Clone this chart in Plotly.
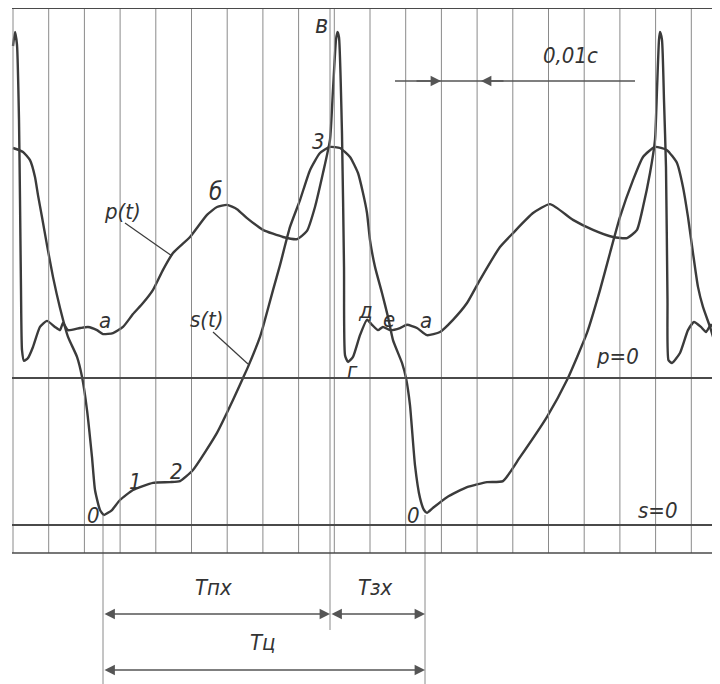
import plotly.graph_objects as go

# ---------------- data ----------------
# time axis in ms (one vertical grid division = 0,01 s scale mark ~ 10 ms)
p_t = [0.0, 0.56, 1.12, 1.68, 1.96, 2.24, 2.52, 3.08, 4.20, 5.60, 7.56, 9.52, 11.76, 13.17, 14.01,
       15.41, 18.77, 21.01, 23.53, 25.21, 28.01, 30.81, 33.61, 36.41, 39.22, 42.02, 44.82, 49.58,
       54.34, 57.14, 59.94, 62.74, 65.55, 70.03, 75.63, 79.55, 82.35, 84.59, 86.83, 88.79, 89.63,
       90.47, 90.89, 91.31, 92.15, 92.72, 93.00, 93.84, 95.24, 97.20, 99.16, 100.56, 102.24,
       103.64, 105.60, 108.40, 110.36, 113.16, 115.97, 119.61, 123.25, 127.17, 130.81, 136.41,
       140.06, 145.66, 150.42, 156.86, 162.46, 168.07, 171.99, 174.79, 176.47, 178.43, 179.83,
       180.39, 180.95, 181.23, 181.79, 182.35, 182.91, 183.33, 183.61, 184.59, 186.83, 189.07,
       190.75, 192.71, 194.12, 195.52, 196.92, 198.04]
p_val = [93.0, 96.9, 93.3, 72.3, 49.9, 24.7, 7.8, 4.8, 5.6, 8.7, 14.3, 16.0, 14.3, 13.4, 15.4,
         13.4, 14.0, 14.3, 13.4, 12.3, 12.6, 14.3, 17.9, 21.0, 24.7, 30.3, 35.0, 39.5,
         45.7, 47.9, 48.5, 47.3, 44.8, 41.5, 39.5, 38.9, 41.2, 47.9, 57.4, 66.7, 80.7,
         94.7, 96.9, 95.5, 68.6, 31.1, 6.4, 4.5, 5.9, 12.0, 16.3, 14.9, 13.4,
         14.3, 13.4, 14.0, 14.9, 14.0, 12.0, 12.9, 16.3, 21.0, 27.5, 36.7,
         40.6, 46.2, 48.7, 44.3, 41.5, 39.5, 39.2, 41.5, 47.9, 57.4, 66.7,
         80.7, 94.7, 96.9, 94.7, 77.9, 59.1, 21.9, 5.0, 4.2, 7.0, 13.4,
         15.7, 14.3, 12.9, 14.9, 12.9, 12.6]

s_t = [0.0, 2.80, 4.76, 6.16, 7.00, 8.12, 9.52, 11.20, 13.17, 15.41, 17.93, 19.33, 20.73, 22.13,
       22.97, 24.37, 25.49, 26.61, 27.73, 29.97, 33.61, 39.22, 43.98, 46.78, 50.42, 57.14, 61.62,
       64.43, 65.83, 69.19, 70.03, 72.83, 74.79, 77.59, 80.39, 83.19, 85.99, 88.79, 91.59, 94.40,
       96.64, 98.04, 99.16, 100.00, 101.40, 103.36, 105.04, 106.44, 108.96, 110.08, 111.20,
       112.60, 114.00, 115.13, 115.97, 117.65, 121.57, 127.17, 132.77, 137.25, 142.02, 149.58,
       155.18, 160.78, 164.42, 167.23, 170.03, 173.67, 176.47, 179.83, 183.19, 185.99, 187.67,
       189.07, 190.47, 191.87, 193.27, 195.24, 196.64, 198.04]
s_val = [10.56, 10.45, 10.22, 9.75, 9.24, 8.63, 7.84, 6.95, 6.08, 5.27, 4.71, 4.15, 3.22, 1.90,
         0.98, 0.42, 0.28, 0.34, 0.42, 0.70, 0.98, 1.18, 1.20, 1.23, 1.54, 2.58, 3.50,
         4.12, 4.43, 5.27, 5.55, 6.58, 7.28, 8.35, 9.10, 9.94, 10.42, 10.59, 10.56, 10.31,
         9.86, 9.30, 8.74, 7.98, 7.23, 6.50, 5.83, 5.18, 4.54, 4.12, 3.36,
         1.68, 0.76, 0.42, 0.34, 0.48, 0.78, 1.06, 1.20, 1.23, 1.90, 3.03,
         4.06, 5.38, 6.58, 7.62, 8.63, 9.66, 10.31, 10.59, 10.50, 10.14, 9.47,
         8.63, 7.62, 6.67, 6.11, 5.55, 5.10, 4.82]

grid_t = [0, 10, 20, 30, 40, 50, 60, 70, 80, 90, 100, 110, 120, 130, 140, 150, 160, 170, 180, 190]

# ---------------- helpers (page position -> axis units, for drawing furniture) ----------------
K = 10 / 35.7
OFF = 8  # default body margin of the html page
def X(px):
    return (px - 13) * K
def P(py):
    return (378 - py) * K
def S(py):
    return (525 - py) * K / 10

INK = "#3b3b3b"
GRID = "#8a8a8a"
FONT = "DejaVu Sans Condensed, DejaVu Sans, sans-serif"

fig = go.Figure()
fig.add_trace(go.Scatter(x=p_t, y=p_val, mode="lines", yaxis="y",
                         line=dict(color=INK, width=2.4, shape="spline", smoothing=0.5),
                         hoverinfo="skip"))
fig.add_trace(go.Scatter(x=s_t, y=s_val, mode="lines", yaxis="y2",
                         line=dict(color=INK, width=2.4, shape="spline", smoothing=0.5),
                         hoverinfo="skip"))

shapes = []
y_top, y_bot = P(8), P(553)
for g in grid_t:
    shapes.append(dict(type="line", xref="x", yref="y", x0=g, x1=g, y0=y_top, y1=y_bot,
                       line=dict(color=GRID, width=1)))
# extra line at the Тпх / Тзх boundary
shapes.append(dict(type="line", xref="x", yref="y", x0=X(330), x1=X(330), y0=y_top, y1=P(630),
                   line=dict(color=GRID, width=1)))
# extension lines from the s minima
for px in (103, 425):
    shapes.append(dict(type="line", xref="x", yref="y", x0=X(px), x1=X(px), y0=P(515), y1=P(690),
                       line=dict(color=GRID, width=1)))
# horizontal frame lines: top, p=0, s=0, bottom
for py, w in ((8, 1.8), (378, 2.2), (525, 2.2), (553, 1.6)):
    shapes.append(dict(type="line", xref="x", yref="y", x0=X(12), x1=X(722), y0=P(py), y1=P(py),
                       line=dict(color="#4a4a4a", width=w)))
# leader lines
shapes.append(dict(type="line", xref="x", yref="y", x0=X(125), y0=P(223), x1=X(172), y1=P(256),
                   line=dict(color=INK, width=1.2)))
shapes.append(dict(type="line", xref="x", yref="y", x0=X(213), y0=P(332), x1=X(248), y1=P(364),
                   line=dict(color=INK, width=1.2)))
# 0,01 c scale line
shapes.append(dict(type="line", xref="x", yref="y", x0=X(395), x1=X(635), y0=P(81), y1=P(81),
                   line=dict(color="#555555", width=1.3)))

ann = []
def label(txt, px, py, size=22):
    ann.append(dict(x=X(px), y=P(py), xref="x", yref="y", text="<i>" + txt + "</i>",
                    showarrow=False, font=dict(family=FONT, size=size, color="#333333")))

label("в", 321, 24, 25)
label("3", 318, 141)
label("б", 215, 192, 24)
label("p(t)", 122, 211)
label("s(t)", 207, 319)
label("а", 105, 320)
label("а", 426, 320)
label("д", 365, 310)
label("е", 389, 319)
label("г", 352, 370)
label("0", 93, 515)
label("0", 413, 515)
label("1", 135, 481)
label("2", 176, 471)
label("p=0", 617, 356)
label("s=0", 658, 510)
label("0,01с", 570, 55)
label("Тпх", 213, 587)
label("Тзх", 375, 587)
label("Тц", 263, 642)

def arrow(x_head, x_tail, py, both=False):
    ann.append(dict(x=X(x_head), y=P(py), ax=X(x_tail), ay=P(py), xref="x", yref="y",
                    axref="x", ayref="y", text="", showarrow=True,
                    arrowhead=2, arrowsize=1.6, arrowwidth=1.3, arrowcolor="#555555",
                    arrowside="end+start" if both else "end",
                    startarrowhead=2, startarrowsize=1.6))

arrow(441, 415, 81)
arrow(481, 505, 81)
arrow(330, 103, 614, both=True)
arrow(425, 330, 614, both=True)
arrow(425, 103, 670, both=True)

fig.update_layout(
    width=720 - OFF, height=684 - OFF,
    margin=dict(l=0, r=0, t=0, b=0),
    paper_bgcolor="white", plot_bgcolor="white",
    showlegend=False,
    xaxis=dict(range=[X(OFF), X(720)], visible=False, fixedrange=True),
    yaxis=dict(range=[P(684), P(OFF)], visible=False, fixedrange=True),
    yaxis2=dict(range=[S(684), S(OFF)], overlaying="y", visible=False, fixedrange=True),
    shapes=shapes,
    annotations=ann,
)

fig.write_html("out.html")
